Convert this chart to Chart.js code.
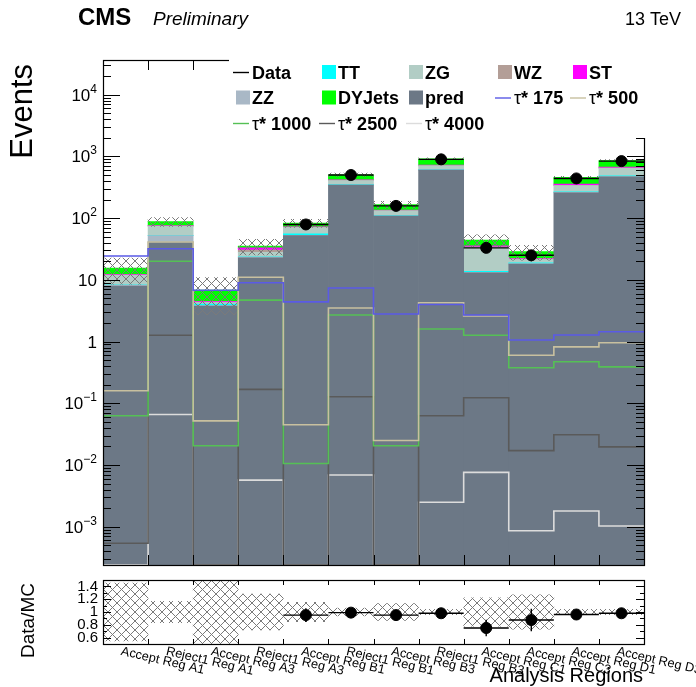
<!DOCTYPE html>
<html>
<head>
<meta charset="utf-8">
<script src="https://cdn.jsdelivr.net/npm/chart.js@4.4.1/dist/chart.umd.min.js"></script>
<style>
  html, body { margin: 0; padding: 0; background: #ffffff; }
  #wrap { position: relative; width: 696px; height: 687px; }
  #wrap canvas { position: absolute; left: 0; top: 0; }
</style>
</head>
<body>
<div id="wrap">
  <canvas id="main" width="696" height="687"></canvas>
  <canvas id="ratio" width="696" height="687"></canvas>
</div>
<script>
// ---- analysis regions (one bin each) ----
const REGIONS = ["Accept Reg A1", "Reject1 Reg A1", "Accept Reg A3", "Reject1 Reg A3",
                 "Accept Reg B1", "Reject1 Reg B1", "Accept Reg B3", "Reject1 Reg B3",
                 "Accept Reg C1", "Accept Reg C3", "Accept Reg D1", "Accept Reg D3"];

// ---- stacked backgrounds, bottom to top ----
const PRED   = [7.9, 41, 3.77, 22.8, 52, 344, 108, 600, 13, 18, 258, 468];
const ZZ     = [0.3, 11, 0.05, 0.5, 0.5, 3, 1, 5, 0.3, 0.3, 3, 5];
const TT     = [0.1, 0.5, 0.25, 0.3, 3, 5, 2, 8, 0.4, 0.6, 6, 10];
const ZG     = [3.5, 21, 0.2, 4.3, 15, 55, 20, 90, 20, 2.5, 70, 160];
const WZ     = [0.3, 1.5, 0.1, 2.5, 1, 5, 2, 10, 0.5, 0.5, 4, 8];
const ST     = [0.2, 0.5, 0.1, 2.5, 1, 5, 2, 12, 1.5, 0.5, 14, 18];
const DYJETS = [3.2, 12.5, 2.33, 2.4, 10.5, 88, 31, 190, 8.3, 6.2, 103, 188];

// relative MC uncertainty per bin
const MC_UNC = [0.45, 0.165, 0.6, 0.28, 0.15, 0.06, 0.13, 0.04, 0.22, 0.27, 0.04, 0.04];

// observed events (no entries in the first four regions)
const DATA = [null, null, null, null, 79, 500, 158, 897, 33, 25, 440, 840];

// ---- signal hypotheses ----
const TAU175  = [24.3, 32, 6.8, 9.0, 4.4, 7.4, 2.8, 4.0, 2.7, 1.06, 1.28, 1.44];
const TAU500  = [0.16, 41, 0.052, 11, 0.045, 3.5, 0.025, 4.25, 2.6, 0.6, 0.82, 0.96];
const TAU1000 = [0.063, 20, 0.0205, 4.7, 0.0106, 2.7, 0.0205, 1.6, 1.27, 0.376, 0.47, 0.39];
const TAU2500 = [0.00054, 1.27, 0, 0.168, 0, 0.128, 0, 0.063, 0.123, 0.0171, 0.031, 0.0197];
const TAU4000 = [0, 0.066, 0, 0.0057, 0, 0.0069, 0, 0.0025, 0.0076, 0.00086, 0.0018, 0.00103];

// ---- axes ----
const Y_MIN = 2.4e-4, Y_MAX = 3.65e4;
const Y_TICKS = [1e-3, 1e-2, 1e-1, 1, 10, 1e2, 1e3, 1e4];
const Y_TICK_LABELS = [["10", "\u22123"], ["10", "\u22122"], ["10", "\u22121"], ["1", ""],
                       ["10", ""], ["10", "2"], ["10", "3"], ["10", "4"]];
const R_MIN = 0.5, R_MAX = 1.5;
const R_TICKS = [0.6, 0.8, 1.0, 1.2, 1.4];
const R_TICK_LABELS = ["0.6", "0.8", "1", "1.2", "1.4"];

const LEGEND_ORDER = ["Data", "TT", "ZG", "WZ", "ST",
                      "ZZ", "DYJets", "pred", "\u03c4* 175", "\u03c4* 500",
                      "\u03c4* 1000", "\u03c4* 2500", "\u03c4* 4000"];

// ---------------------------------------------------------------
const NB = REGIONS.length;
const FONT = '"Liberation Sans", Arial, Helvetica, sans-serif';
const COMPONENTS = [PRED, ZZ, TT, ZG, WZ, ST, DYJETS];
const TOTAL = REGIONS.map((_, i) => COMPONENTS.reduce((s, a) => s + a[i], 0));
const RATIO = DATA.map((d, i) => d == null ? null : d / TOTAL[i]);
const RATIO_ERR = DATA.map((d, i) => d == null ? null : Math.sqrt(d) / TOTAL[i]);

const atCentre = vals => vals.map((v, i) => ({ x: i + 0.5, y: v }));
const floorY = v => (v > 0 ? v : Y_MIN);
// step outline: one point per bin edge, the last edge repeats the last bin
const stepLine = vals => {
  const pts = vals.map((v, i) => ({ x: i, y: floorY(v) }));
  pts.push({ x: vals.length, y: floorY(vals[vals.length - 1]) });
  return pts;
};

function crossHatch(color, size) {
  const c = document.createElement('canvas');
  c.width = c.height = size;
  const g = c.getContext('2d');
  g.strokeStyle = color;
  g.lineWidth = 1;
  g.beginPath();
  g.moveTo(0, 0); g.lineTo(size, size);
  g.moveTo(size, 0); g.lineTo(0, size);
  g.stroke();
  return g.createPattern(c, 'repeat');
}
const HATCH = crossHatch('#7a7a7a', 9);

const COLORS = {
  pred: '#6c7886', ZZ: '#a9b8c6', TT: '#00ffff', ZG: '#b2cdc5', WZ: '#b39e97',
  ST: '#ff00ff', DYJets: '#00ff00',
  t175: '#5a5ae6', t500: '#c8c09f', t1000: '#55c055', t2500: '#5a5a5a', t4000: '#dcdcdc'
};

function stackSet(label, vals, color) {
  return {
    type: 'bar', label, data: atCentre(vals), backgroundColor: color,
    borderWidth: 0, stack: 'mc', grouped: false,
    barPercentage: 1.0, categoryPercentage: 1.0, legendKind: 'box'
  };
}
function sigSet(label, vals, color, id) {
  return {
    type: 'line', label, data: stepLine(vals), borderColor: color, backgroundColor: color,
    borderWidth: 1.6, pointRadius: 0, stepped: 'before', fill: false, stack: id,
    legendKind: 'line'
  };
}

// error bars for the observed points, drawn beneath the markers
const errorBars = {
  id: 'errorBars',
  beforeDatasetDraw(chart, args) {
    const ds = chart.data.datasets[args.index];
    if (!ds.errLow) return;
    const ctx = chart.ctx, xs = chart.scales.x, ys = chart.scales.y;
    ctx.save();
    ctx.beginPath();
    ctx.rect(chart.chartArea.left, chart.chartArea.top,
             chart.chartArea.right - chart.chartArea.left, chart.chartArea.bottom - chart.chartArea.top);
    ctx.clip();
    ctx.strokeStyle = '#000'; ctx.lineWidth = 1.4;
    ds.data.forEach((p, i) => {
      if (p.y == null) return;
      const px = xs.getPixelForValue(p.x);
      const py = ys.getPixelForValue(p.y);
      ctx.beginPath();
      ctx.moveTo(xs.getPixelForValue(p.x - 0.5), py);
      ctx.lineTo(xs.getPixelForValue(p.x + 0.5), py);
      ctx.moveTo(px, ys.getPixelForValue(ds.errLow[i]));
      ctx.lineTo(px, ys.getPixelForValue(ds.errHigh[i]));
      ctx.stroke();
    });
    ctx.restore();
  }
};

function drawBinEdgeTicks(chart, len) {
  const ctx = chart.ctx, a = chart.chartArea, xs = chart.scales.x;
  ctx.beginPath();
  for (let e = 1; e < NB; e++) {
    const x = Math.round(xs.getPixelForValue(e)) + 0.5;
    ctx.moveTo(x, a.top); ctx.lineTo(x, a.top + len);
    ctx.moveTo(x, a.bottom); ctx.lineTo(x, a.bottom - len);
  }
  ctx.stroke();
}

// frame, inward ticks, labels, titles and legend of the upper panel
const mainDecor = {
  id: 'mainDecor',
  afterDraw(chart) {
    const ctx = chart.ctx, a = chart.chartArea, ys = chart.scales.y;
    ctx.save();
    ctx.strokeStyle = '#000'; ctx.lineWidth = 1;
    drawBinEdgeTicks(chart, 10);
    ctx.beginPath();
    for (let n = -4; n <= 4; n++) {
      for (let k = 1; k <= 9; k++) {
        const v = k * Math.pow(10, n);
        if (v < Y_MIN || v > Y_MAX) continue;
        const y = Math.round(ys.getPixelForValue(v)) + 0.5;
        const len = k === 1 ? 17 : 8;
        ctx.moveTo(a.left, y); ctx.lineTo(a.left + len, y);
        ctx.moveTo(a.right, y); ctx.lineTo(a.right - len, y);
      }
    }
    ctx.stroke();
    ctx.lineWidth = 1.2;
    ctx.strokeRect(Math.round(a.left) + 0.5, Math.round(a.top) + 0.5,
                   Math.round(a.right - a.left), Math.round(a.bottom - a.top));

    // tick labels
    ctx.fillStyle = '#000';
    ctx.textBaseline = 'alphabetic';
    Y_TICKS.forEach((v, i) => {
      const y = ys.getPixelForValue(v);
      const [base, exp] = Y_TICK_LABELS[i];
      let right = 97;
      if (exp) {
        ctx.font = '12px ' + FONT; ctx.textAlign = 'right';
        ctx.fillText(exp, right, y - 2);
        right -= ctx.measureText(exp).width;
      }
      ctx.font = '17px ' + FONT; ctx.textAlign = 'right';
      ctx.fillText(base, right, y + 6);
    });

    // axis title
    ctx.save();
    ctx.translate(32, 64); ctx.rotate(-Math.PI / 2);
    ctx.font = '31px ' + FONT; ctx.textAlign = 'right';
    ctx.fillText('Events', 0, 0);
    ctx.restore();

    // header
    ctx.textAlign = 'left';
    ctx.font = 'bold 24px ' + FONT; ctx.fillText('CMS', 78, 25);
    ctx.font = 'italic 19px ' + FONT; ctx.fillText('Preliminary', 153, 25);
    ctx.textAlign = 'right';
    ctx.font = '18px ' + FONT; ctx.fillText('13 TeV', 681, 25);

    // legend
    ctx.fillStyle = '#fff';
    ctx.fillRect(229, 57, 422, 81);
    const textX = [252, 338, 425, 514, 589];
    const rowY = [72, 97.5, 123];
    LEGEND_ORDER.forEach((label, i) => {
      const ds = chart.data.datasets.find(d => d.label === label);
      const col = i % 5, row = Math.floor(i / 5);
      const tx = textX[col], cy = rowY[row];
      if (ds.legendKind === 'box') {
        ctx.fillStyle = ds.backgroundColor;
        ctx.fillRect(tx - 16, cy - 7, 14, 14);
      } else {
        ctx.strokeStyle = ds.borderColor;
        ctx.lineWidth = 1.4;
        ctx.beginPath(); ctx.moveTo(tx - 19, cy + 0.5); ctx.lineTo(tx - 3, cy + 0.5); ctx.stroke();
      }
      ctx.fillStyle = '#000'; ctx.textAlign = 'left';
      let x = tx;
      let text = label;
      if (text.startsWith('\u03c4')) {
        ctx.font = '18px ' + FONT;
        ctx.fillText('\u03c4', x, cy + 6.5);
        x += ctx.measureText('\u03c4').width;
        text = text.slice(1);
      }
      ctx.font = 'bold 18px ' + FONT;
      ctx.fillText(text, x, cy + 6.5);
    });
    ctx.restore();
  }
};

const ratioDecor = {
  id: 'ratioDecor',
  afterDraw(chart) {
    const ctx = chart.ctx, a = chart.chartArea, ys = chart.scales.y, xs = chart.scales.x;
    ctx.save();
    ctx.strokeStyle = '#000'; ctx.lineWidth = 1;
    drawBinEdgeTicks(chart, 5);
    ctx.beginPath();
    for (let k = 6; k <= 14; k++) {
      const v = k / 10;
      const y = Math.round(ys.getPixelForValue(v)) + 0.5;
      const len = k % 2 === 0 ? 8 : 4;
      ctx.moveTo(a.left, y); ctx.lineTo(a.left + len, y);
      ctx.moveTo(a.right, y); ctx.lineTo(a.right - len, y);
    }
    ctx.stroke();
    ctx.lineWidth = 1.2;
    ctx.strokeRect(Math.round(a.left) + 0.5, Math.round(a.top) + 0.5,
                   Math.round(a.right - a.left), Math.round(a.bottom - a.top));

    ctx.fillStyle = '#000';
    ctx.font = '15px ' + FONT; ctx.textAlign = 'right'; ctx.textBaseline = 'middle';
    R_TICKS.forEach((v, i) => ctx.fillText(R_TICK_LABELS[i], 98, ys.getPixelForValue(v)));

    // rotated bin labels
    ctx.textAlign = 'left'; ctx.textBaseline = 'top';
    ctx.font = '12.8px ' + FONT;
    REGIONS.forEach((lab, i) => {
      ctx.save();
      ctx.translate(xs.getPixelForValue(i + 0.5) - 3, a.bottom + 1);
      ctx.rotate(13 * Math.PI / 180);
      ctx.fillText(lab, 0, 0);
      ctx.restore();
    });

    ctx.textBaseline = 'alphabetic';
    ctx.font = '20px ' + FONT; ctx.textAlign = 'right';
    ctx.fillText('Analysis Regions', 643, 682);

    ctx.save();
    ctx.translate(34, 583); ctx.rotate(-Math.PI / 2);
    ctx.font = '19px ' + FONT; ctx.textAlign = 'right';
    ctx.fillText('Data/MC', 0, 0);
    ctx.restore();
    ctx.restore();
  }
};

Chart.defaults.font.family = FONT;

new Chart(document.getElementById('main'), {
  data: {
    datasets: [
      {
        type: 'line', label: 'Data', data: atCentre(DATA), showLine: false,
        pointRadius: 5.5, pointHoverRadius: 5.5, pointBackgroundColor: '#000', pointBorderColor: '#000',
        borderColor: '#000', stack: 'data', legendKind: 'line',
        errLow: DATA.map(d => d == null ? null : Math.max(d - Math.sqrt(d), Y_MIN)),
        errHigh: DATA.map(d => d == null ? null : d + Math.sqrt(d))
      },
      sigSet('\u03c4* 175', TAU175, COLORS.t175, 's175'),
      sigSet('\u03c4* 500', TAU500, COLORS.t500, 's500'),
      sigSet('\u03c4* 1000', TAU1000, COLORS.t1000, 's1000'),
      sigSet('\u03c4* 2500', TAU2500, COLORS.t2500, 's2500'),
      sigSet('\u03c4* 4000', TAU4000, COLORS.t4000, 's4000'),
      {
        type: 'bar', label: 'MC uncertainty', stack: 'band', grouped: false,
        data: TOTAL.map((t, i) => ({ x: i + 0.5, y: [t * (1 - MC_UNC[i]), t * (1 + MC_UNC[i])] })),
        backgroundColor: HATCH, borderWidth: 0, barPercentage: 1.0, categoryPercentage: 1.0
      },
      stackSet('pred', PRED, COLORS.pred),
      stackSet('ZZ', ZZ, COLORS.ZZ),
      stackSet('TT', TT, COLORS.TT),
      stackSet('ZG', ZG, COLORS.ZG),
      stackSet('WZ', WZ, COLORS.WZ),
      stackSet('ST', ST, COLORS.ST),
      stackSet('DYJets', DYJETS, COLORS.DYJets)
    ]
  },
  options: {
    responsive: false, animation: false, devicePixelRatio: 1,
    layout: { padding: { left: 103, top: 60, right: 52, bottom: 122 } },
    plugins: { legend: { display: false }, tooltip: { enabled: false } },
    scales: {
      x: { type: 'linear', min: 0, max: NB, offset: false, display: false },
      y: { type: 'logarithmic', min: Y_MIN, max: Y_MAX, display: false, stacked: true }
    }
  },
  plugins: [errorBars, mainDecor]
});

new Chart(document.getElementById('ratio'), {
  data: {
    datasets: [
      {
        type: 'line', label: 'Data/MC', data: atCentre(RATIO), showLine: false,
        pointRadius: 5.5, pointHoverRadius: 5.5, pointBackgroundColor: '#000', pointBorderColor: '#000',
        errLow: RATIO.map((r, i) => r == null ? null : r - RATIO_ERR[i]),
        errHigh: RATIO.map((r, i) => r == null ? null : r + RATIO_ERR[i])
      },
      {
        type: 'bar', label: 'MC uncertainty', grouped: false, clip: 0,
        data: MC_UNC.map((u, i) => ({ x: i + 0.5, y: [1 - u, 1 + u] })),
        backgroundColor: HATCH, borderWidth: 0, barPercentage: 1.0, categoryPercentage: 1.0
      }
    ]
  },
  options: {
    responsive: false, animation: false, devicePixelRatio: 1,
    layout: { padding: { left: 103, top: 580, right: 52, bottom: 43 } },
    plugins: { legend: { display: false }, tooltip: { enabled: false } },
    scales: {
      x: { type: 'linear', min: 0, max: NB, offset: false, display: false },
      y: { type: 'linear', min: R_MIN, max: R_MAX, display: false }
    }
  },
  plugins: [errorBars, ratioDecor]
});
</script>
</body>
</html>
